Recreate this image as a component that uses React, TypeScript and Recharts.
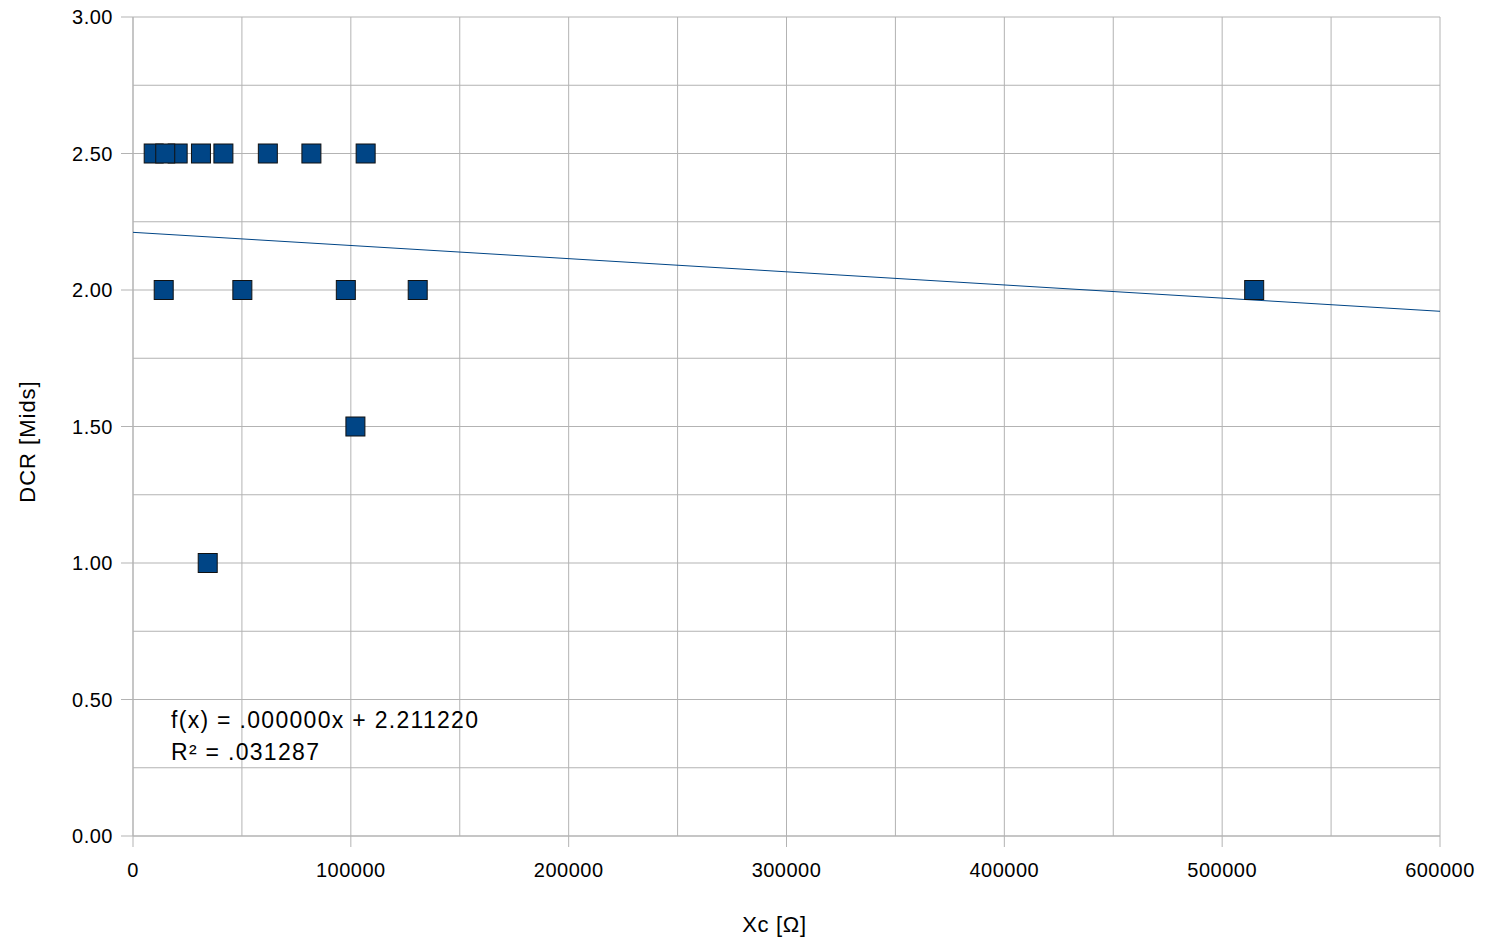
import React from "react";
import {
  ScatterChart,
  Scatter,
  XAxis,
  YAxis,
  CartesianGrid,
  Label,
} from "recharts";

// Xc [Ω] vs DCR [Mids]
const xcValues = [
  9500, 20500, 14800, 31200, 41500, 61900, 81900, 106800,
  14100, 50200, 97700, 130700, 514700,
  102100,
  34300,
];
const dcrValues = [
  2.5, 2.5, 2.5, 2.5, 2.5, 2.5, 2.5, 2.5,
  2.0, 2.0, 2.0, 2.0, 2.0,
  1.5,
  1.0,
];

// linear trend as shown on the chart
const trendIntercept = 2.21122;
const trendSlope = -0.000000482;
const trendLabel = "f(x) = .000000x + 2.211220";
const r2Label = "R² = .031287";

const xTicks = [0, 50000, 100000, 150000, 200000, 250000, 300000, 350000, 400000, 450000, 500000, 550000, 600000];
const yTicks = [0, 0.25, 0.5, 0.75, 1, 1.25, 1.5, 1.75, 2, 2.25, 2.5, 2.75, 3];

const points = xcValues.map((x, i) => ({ x, y: dcrValues[i] }));
const trend = [0, 600000].map((x) => ({ x, y: trendIntercept + trendSlope * x }));

const FONT = "'Liberation Sans', Arial, sans-serif";
const GRID = "#b3b3b3";
const BLUE = "#004586";
const X_TICK_SIZE = 11;
const X_TICK_MARGIN = 16;
const Y_TICK_SIZE = 12;
const Y_TICK_MARGIN = 8;

function XTick(props: any) {
  const { x, y, payload } = props;
  if (payload.value % 100000 !== 0) return null;
  const top = y - X_TICK_SIZE - X_TICK_MARGIN;
  return (
    <g>
      <line x1={x} x2={x} y1={top} y2={top + X_TICK_SIZE} stroke={GRID} strokeWidth={1} />
      <text x={x} y={y} dy="0.71em" textAnchor="middle" fill="#000" fontSize={20} fontFamily={FONT} letterSpacing={0.5}>
        {payload.value}
      </text>
    </g>
  );
}

function YTick(props: any) {
  const { x, y, payload } = props;
  if (Math.round(payload.value * 100) % 50 !== 0) return null;
  const right = x + Y_TICK_MARGIN + Y_TICK_SIZE;
  return (
    <g>
      <line x1={right - Y_TICK_SIZE} x2={right} y1={y} y2={y} stroke={GRID} strokeWidth={1} />
      <text x={x} y={y} dy="0.36em" textAnchor="end" fill="#000" fontSize={20} fontFamily={FONT} letterSpacing={0.5}>
        {payload.value.toFixed(2)}
      </text>
    </g>
  );
}

function SquareDot(props: any) {
  const { cx, cy } = props;
  const s = 19;
  return <rect x={cx - s / 2} y={cy - s / 2} width={s} height={s} fill={BLUE} stroke="#111" strokeWidth={1} />;
}

export default function App() {
  return (
    <div style={{ position: "absolute", left: 0, top: 0, width: 1485, height: 940, background: "#fff" }}>
      <ScatterChart width={1485} height={940} margin={{ top: 17, right: 45, bottom: 0, left: 0 }}>
        <CartesianGrid stroke={GRID} strokeWidth={1} />
        <XAxis
          type="number"
          dataKey="x"
          domain={[0, 600000]}
          ticks={xTicks}
          interval={0}
          height={104}
          tickLine={false}
          tickSize={X_TICK_SIZE}
          tickMargin={X_TICK_MARGIN}
          axisLine={{ stroke: GRID }}
          tick={<XTick />}
        >
          <Label
            value="Xc [Ω]"
            position="insideBottom"
            offset={8}
            dx={-12}
            style={{ fontSize: 22, fontFamily: FONT, fill: "#000", letterSpacing: 0.7 }}
          />
        </XAxis>
        <YAxis
          type="number"
          dataKey="y"
          domain={[0, 3]}
          ticks={yTicks}
          interval={0}
          width={133}
          tickLine={false}
          tickSize={Y_TICK_SIZE}
          tickMargin={Y_TICK_MARGIN}
          axisLine={{ stroke: GRID }}
          tick={<YTick />}
        >
          <Label
            value="DCR [Mids]"
            angle={-90}
            position="insideLeft"
            offset={27}
            dy={15}
            style={{ fontSize: 22, fontFamily: FONT, fill: "#000", letterSpacing: 1, textAnchor: "middle" }}
          />
        </YAxis>
        <Scatter
          data={trend}
          line={{ stroke: BLUE, strokeWidth: 1 }}
          shape={() => null}
          isAnimationActive={false}
        />
        <Scatter data={points} shape={<SquareDot />} isAnimationActive={false} />
      </ScatterChart>
      <div
        style={{
          position: "absolute",
          left: 171,
          top: 704,
          fontFamily: FONT,
          fontSize: 23,
          lineHeight: "32px",
          letterSpacing: 1.3,
          color: "#000",
          whiteSpace: "pre",
        }}
      >
        <div>{trendLabel}</div>
        <div>{r2Label}</div>
      </div>
    </div>
  );
}
